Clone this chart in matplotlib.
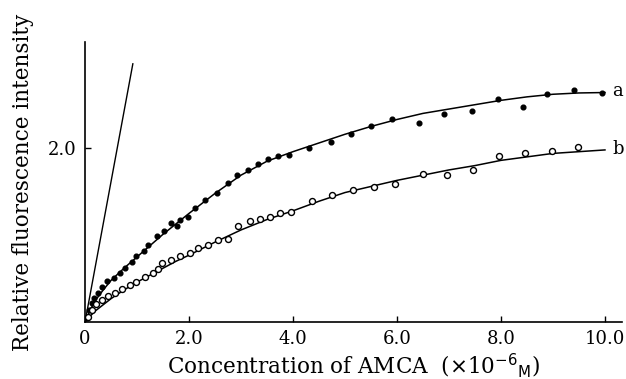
import matplotlib
matplotlib.use("Agg")
import matplotlib.pyplot as plt

# curve a: filled dots
a_x = [0.03, 0.08, 0.13, 0.18, 0.25, 0.32, 0.43, 0.55, 0.67, 0.77, 0.90, 0.99,
       1.13, 1.22, 1.38, 1.52, 1.65, 1.76, 1.83, 1.98, 2.12, 2.31, 2.54, 2.75,
       2.92, 3.13, 3.33, 3.52, 3.71, 3.92, 4.31, 4.73, 5.12, 5.50, 5.90, 6.42,
       6.90, 7.44, 7.94, 8.42, 8.88, 9.40, 9.95]
a_y = [0.05, 0.14, 0.22, 0.28, 0.34, 0.40, 0.47, 0.51, 0.56, 0.62, 0.69, 0.76,
       0.82, 0.89, 0.99, 1.05, 1.14, 1.10, 1.18, 1.21, 1.31, 1.40, 1.49, 1.60,
       1.69, 1.75, 1.82, 1.87, 1.91, 1.92, 2.00, 2.07, 2.16, 2.25, 2.33, 2.29,
       2.39, 2.43, 2.57, 2.47, 2.62, 2.67, 2.64]

# curve b: open circles
b_x = [0.05, 0.13, 0.22, 0.32, 0.45, 0.58, 0.71, 0.87, 0.99, 1.15, 1.30, 1.41,
       1.49, 1.65, 1.83, 2.01, 2.18, 2.37, 2.56, 2.75, 2.95, 3.17, 3.37, 3.56,
       3.75, 3.97, 4.36, 4.75, 5.16, 5.56, 5.96, 6.50, 6.96, 7.47, 7.96, 8.46,
       8.98, 9.48]
b_y = [0.06, 0.14, 0.21, 0.25, 0.30, 0.34, 0.38, 0.43, 0.46, 0.52, 0.56, 0.61,
       0.68, 0.71, 0.76, 0.79, 0.85, 0.89, 0.94, 0.96, 1.10, 1.16, 1.19, 1.21,
       1.25, 1.27, 1.39, 1.46, 1.52, 1.55, 1.59, 1.70, 1.69, 1.75, 1.91, 1.94,
       1.97, 2.01]

# fitted curves
fit_x = [0.0, 0.1, 0.2, 0.35, 0.5, 0.75, 1.0, 1.25, 1.5, 1.75, 2.0, 2.5, 3.0,
         3.5, 4.0, 4.5, 5.0, 5.5, 6.0, 6.5, 7.0, 7.5, 8.0, 8.5, 9.0, 9.5, 10.0]
fit_a = [0.0, 0.14, 0.25, 0.37, 0.48, 0.62, 0.75, 0.88, 1.01, 1.13, 1.25, 1.48,
         1.69, 1.85, 1.96, 2.06, 2.16, 2.25, 2.33, 2.40, 2.45, 2.50, 2.55, 2.59,
         2.62, 2.635, 2.64]
fit_b = [0.0, 0.07, 0.13, 0.20, 0.27, 0.37, 0.46, 0.54, 0.62, 0.70, 0.77, 0.92,
         1.06, 1.18, 1.28, 1.39, 1.49, 1.56, 1.63, 1.69, 1.75, 1.80, 1.86, 1.90,
         1.94, 1.96, 1.98]

# steep reference line
ref_x = [0.0, 0.92]
ref_y = [0.0, 2.97]

plt.rcParams["font.family"] = ["DejaVu Serif"]

fig = plt.figure(figsize=(6.26, 3.79), dpi=100)
ax = fig.add_axes([0.1358, 0.150, 0.858, 0.739])

ax.plot(fit_x, fit_a, "-", color="black", linewidth=1.1)
ax.plot(fit_x, fit_b, "-", color="black", linewidth=1.1)
ax.plot(ref_x, ref_y, "-", color="black", linewidth=1.0)
ax.plot(a_x, a_y, "o", color="black", markersize=3.4)
ax.plot(b_x, b_y, "o", markerfacecolor="white", markeredgecolor="black",
        markersize=4.3, markeredgewidth=1.0)

ax.text(10.14, 2.66, "a", fontsize=13, va="center", ha="left", clip_on=False)
ax.text(10.14, 1.99, "b", fontsize=13, va="center", ha="left", clip_on=False)

ax.set_xlim(0, 10.33)
ax.set_ylim(0, 3.22)
ax.spines["top"].set_visible(False)
ax.spines["right"].set_visible(False)
ax.spines["left"].set_linewidth(1.2)
ax.spines["bottom"].set_linewidth(1.2)

ax.set_xticks([0, 2, 4, 6, 8, 10])
ax.set_xticklabels(["0", "2.0", "4.0", "6.0", "8.0", "10.0"])
ax.set_yticks([2.0])
ax.set_yticklabels(["2.0"])
ax.tick_params(direction="in", length=4, width=1.0, labelsize=13, pad=6)

ax.set_xlabel(r"Concentration of AMCA  ($\times$10$^{-6}$$_{\mathrm{M}}$)",
              fontsize=15.5, labelpad=2)
ax.set_ylabel("Relative fluorescence intensity", fontsize=15.5, labelpad=10)

fig.savefig("out.png", dpi=100)
